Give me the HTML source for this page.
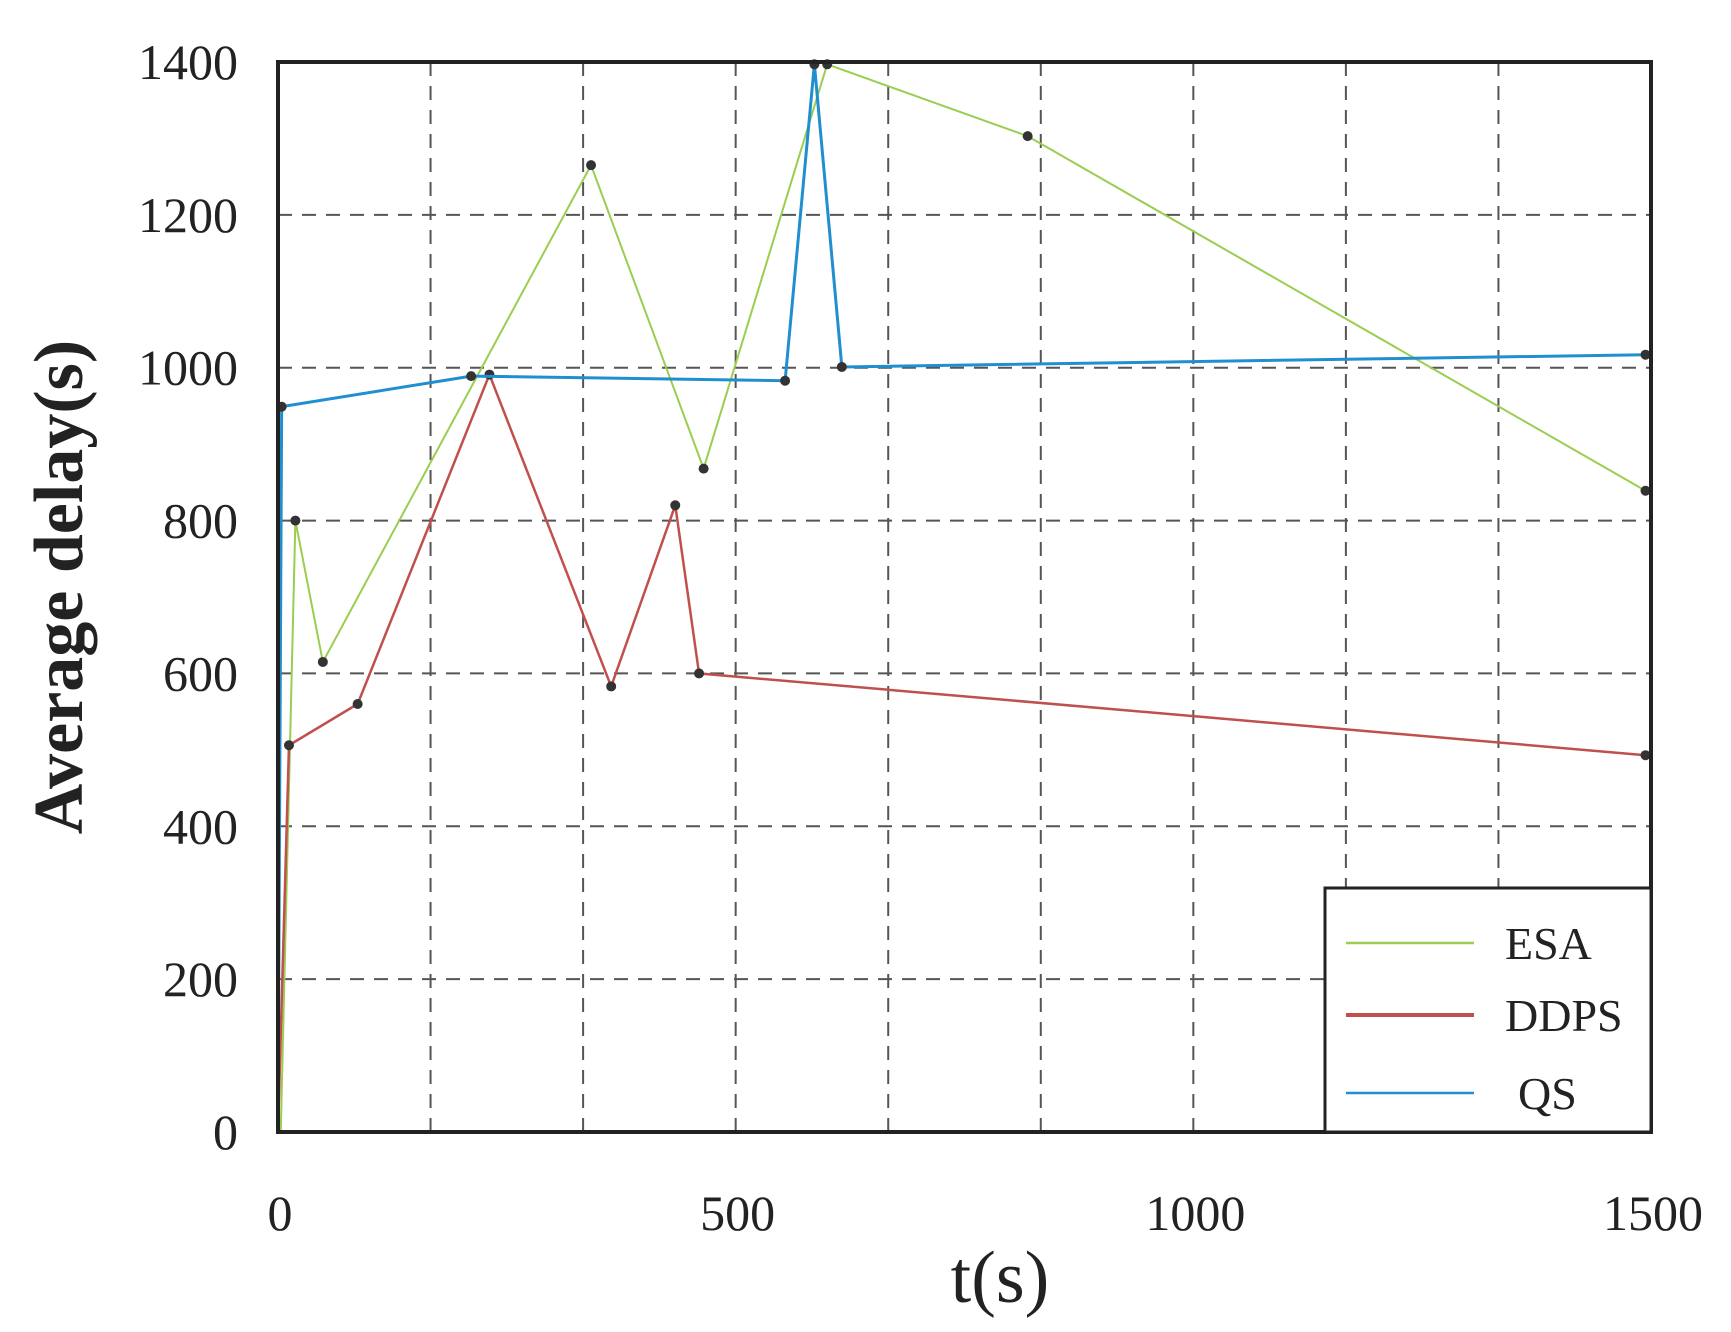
<!DOCTYPE html>
<html><head><meta charset="utf-8"><style>
body{margin:0;background:#fff}
svg{display:block}
text{font-family:"Liberation Serif",serif;fill:#222}
</style></head><body>
<svg width="1731" height="1332" viewBox="0 0 1731 1332" id="svg">
<g id="grid"></g>
<g id="series"></g>
<rect x="278" y="62" width="1373" height="1070" fill="none" stroke="#222" stroke-width="4"/>
<g id="ticks"></g>
<text x="1000" y="1302" font-size="74" text-anchor="middle">t(s)</text>
<text transform="translate(82,587) rotate(-90)" font-size="70" text-anchor="middle" font-weight="bold">Average delay(s)</text>
<g>
<rect x="1325" y="888" width="326" height="244" fill="#fff" stroke="#222" stroke-width="3"/>
<line x1="1346" y1="943" x2="1474" y2="943" stroke="#9acd50" stroke-width="2.5"/>
<text x="1505" y="959" font-size="46">ESA</text>
<line x1="1346" y1="1015" x2="1474" y2="1015" stroke="#c0504d" stroke-width="4"/>
<text x="1505" y="1031" font-size="46">DDPS</text>
<line x1="1346" y1="1093" x2="1474" y2="1093" stroke="#1f8fcf" stroke-width="2.5"/>
<text x="1518" y="1109" font-size="46">QS</text>
</g>
</svg>
<script>
const xTicks=[0,500,1000,1500];
const yTicks=[0,200,400,600,800,1000,1200,1400];
const esaT=[3,19,49,342,465,600,819,1494];
const esaV=[0,800,615,1265,868,1397,1303,839];
const ddpsT=[0,12,87,231,364,434,460,1494];
const ddpsV=[0,506,560,991,583,820,600,493];
const qsT=[0,4,211,554,586,616,1494];
const qsV=[0,949,989,983,1397,1001,1017];
const L=278,R=1651,T=62,B=1132;
const X=t=>L+(R-L)*t/1500, Y=v=>B-(B-T)*v/1400;
const NS="http://www.w3.org/2000/svg";
function mk(tag,p,parent){const e=document.createElementNS(NS,tag);for(const k in p)e.setAttribute(k,p[k]);parent.appendChild(e);return e;}
const grid=document.getElementById('grid'),ticks=document.getElementById('ticks'),ser=document.getElementById('series');
for(let i=1;i<9;i++){const x=X(1500*i/9);const l=mk('line',{x1:x,x2:x,y1:T,y2:B,stroke:'#555','stroke-width':2,'stroke-dasharray':'14,10'},grid);

}
yTicks.forEach(v=>{if(v>0&&v<1400){const l=mk('line',{x1:L,x2:R,y1:Y(v),y2:Y(v),stroke:'#555','stroke-width':2,'stroke-dasharray':'14,10'},grid);

}
const t=mk('text',{x:238,y:Y(v)+17,'font-size':50,'text-anchor':'end'},ticks);t.textContent=v;

});
xTicks.forEach(v=>{const t=mk('text',{x:X(v)+2,y:1230,'font-size':50,'text-anchor':'middle'},ticks);t.textContent=v;

});
function draw(ts,vs,col,w,name){const pts=ts.map((t,i)=>X(t)+','+Y(vs[i])).join(' ');
const p=mk('polyline',{points:pts,fill:'none',stroke:col,'stroke-width':w},ser);


ts.forEach((t,i)=>{if(vs[i]>0){const c=mk('circle',{cx:X(t),cy:Y(vs[i]),r:5,fill:'#333'},ser);

}});}
draw(esaT,esaV,'#9acd50',2,'esa');
draw(ddpsT,ddpsV,'#c0504d',2.5,'ddps');
draw(qsT,qsV,'#1f8fcf',3,'qs');
</script>
</body></html>
